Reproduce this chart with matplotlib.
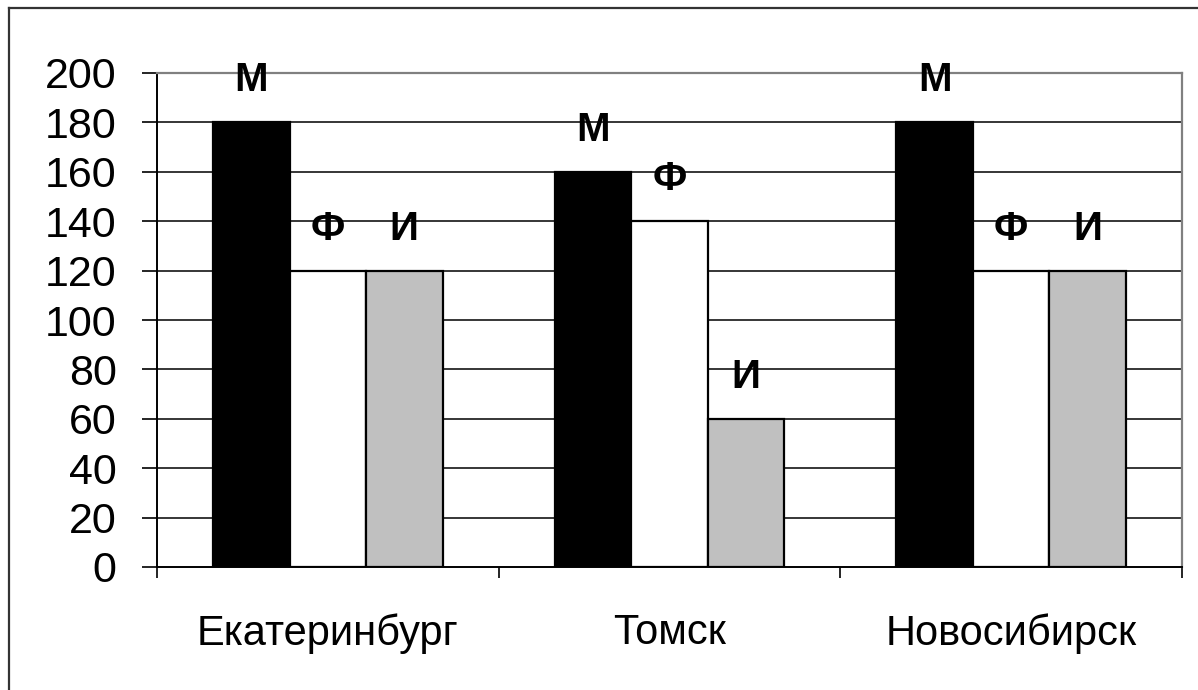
import numpy as np
import matplotlib.pyplot as plt
from matplotlib.lines import Line2D

cities = ['Екатеринбург', 'Томск', 'Новосибирск']
subjects = ['М', 'Ф', 'И']
math_vals = [180, 160, 180]
phys_vals = [120, 140, 120]
inf_vals = [120, 60, 120]
yticks = [0, 20, 40, 60, 80, 100, 120, 140, 160, 180, 200]

plt.rcParams['font.family'] = ['Liberation Sans', 'DejaVu Sans']

fig = plt.figure(figsize=(11.98, 6.9), dpi=100)
ax = fig.add_axes([157 / 1198, 1 - 567 / 690, (1182 - 157) / 1198, (567 - 73) / 690])

centers = np.arange(len(cities)) + 0.5
w = 0.224
series = [math_vals, phys_vals, inf_vals]
colors = ['black', 'white', '#c0c0c0']
for i, (vals, col, lab) in enumerate(zip(series, colors, subjects)):
    xs = centers + (i - 1) * w
    ax.bar(xs, vals, width=w, color=col, edgecolor='black', linewidth=1.6, zorder=3)
    for x, v in zip(xs, vals):
        ax.annotate(lab, (x, v), xytext=(0, 42), textcoords='offset pixels',
                    ha='center', va='center', fontsize=29, fontweight='bold', zorder=4)

ax.set_xlim(0, 3)
ax.set_ylim(0, 200)
ax.set_yticks(yticks)
ax.tick_params(axis='y', labelsize=31, length=11, width=1.2, pad=18, direction='out')
ax.set_xticks([0, 1, 2, 3])
ax.set_xticklabels([])
ax.tick_params(axis='x', which='major', length=8, width=1.2, direction='out')
ax.set_xticks(centers, minor=True)
ax.set_xticklabels(cities, minor=True)
ax.tick_params(axis='x', which='minor', length=0, labelsize=30, pad=33)

for y in yticks[1:-1]:
    ax.axhline(y, color='black', linewidth=1.1, zorder=1)

ax.spines['left'].set_color('black')
ax.spines['left'].set_linewidth(1.4)
ax.spines['bottom'].set_color('black')
ax.spines['bottom'].set_linewidth(1.4)
ax.spines['top'].set_color('#808080')
ax.spines['top'].set_linewidth(1.6)
ax.spines['right'].set_color('#808080')
ax.spines['right'].set_linewidth(1.6)

# outer chart frame (only left and top edges visible)
fig.add_artist(Line2D([9 / 1198, 9 / 1198], [0, 1 - 8 / 690], color='#333333', linewidth=1.6, transform=fig.transFigure))
fig.add_artist(Line2D([9 / 1198, 1], [1 - 8 / 690, 1 - 8 / 690], color='#333333', linewidth=1.6, transform=fig.transFigure))

plt.savefig('out.png', dpi=100)
